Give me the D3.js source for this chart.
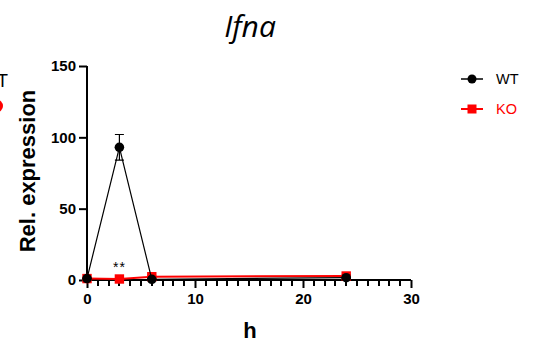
<!DOCTYPE html>
<html>
<head>
<meta charset="utf-8">
<script src="https://cdn.jsdelivr.net/npm/d3@7"></script>
<style>
  html, body { margin: 0; padding: 0; background: #fff; }
  svg { display: block; }
</style>
</head>
<body>
<svg id="chart" width="538" height="347"></svg>
<script>
// Time points (h) and relative expression for each genotype
const hours = [0, 3, 6, 24];
const wtMean = [1, 93, 0.5, 1.6];
const wtSem = [0.3, 9, 0.2, 0.4];
const koMean = [1, 0.7, 2.3, 2.8];
const koSem = [0.2, 0.2, 0.5, 0.6];
const xTicks = [0, 10, 20, 30];
const xMinorTicks = d3.range(0, 31, 1).filter(v => v % 10 !== 0);
const yTicks = [0, 50, 100, 150];
const seriesNames = ["WT", "KO"];
const seriesColors = ["#000000", "#ff0000"];
const sigLabel = { hour: 3, text: "**" };

const svg = d3.select("#chart");
const font = "'Liberation Sans', Arial, sans-serif";

const x = d3.scaleLinear().domain([0, 30]).range([87, 411]);
const y = d3.scaleLinear().domain([0, 150]).range([280, 66]);

// Title
svg.append("text")
  .attr("x", 250).attr("y", 37)
  .attr("text-anchor", "middle")
  .attr("font-family", "'Open Sans', sans-serif")
  .attr("font-style", "italic")
  .attr("font-size", 30)
  .text("Ifna");

// Axes
const xMajor = d3.axisBottom(x).tickValues(xTicks).tickSize(8).tickPadding(5).tickFormat(d3.format("d"));
const yAxis = d3.axisLeft(y).tickValues(yTicks).tickSize(8).tickPadding(3).tickFormat(d3.format("d"));

function styleAxis(g) {
  g.select(".domain").attr("stroke", "#000").attr("stroke-width", 2);
  g.selectAll(".tick line").attr("stroke", "#000").attr("stroke-width", 2);
  g.selectAll(".tick text")
    .attr("font-family", font).attr("font-weight", "bold")
    .attr("font-size", 15).attr("fill", "#000");
}

const gx = svg.append("g").attr("transform", `translate(0,${y(0)})`).call(xMajor).call(styleAxis);
gx.select(".domain").attr("d", `M${x(0)},0H${x(30)}`);

// minor ticks on the x axis, one per hour
svg.append("g")
  .attr("transform", `translate(0,${y(0)})`)
  .selectAll("path")
  .data(xMinorTicks)
  .join("path")
  .attr("d", d => `M${Math.round(x(d))},0V6`)
  .attr("fill", "none")
  .attr("stroke", "#000")
  .attr("stroke-width", 2);

const gy = svg.append("g").attr("transform", `translate(${x(0)},0)`).call(yAxis).call(styleAxis);
gy.select(".domain").attr("d", `M0,${y(150)}V${y(0) + 1}`);

// Axis titles
svg.append("text")
  .attr("transform", `translate(35,171) rotate(-90)`)
  .attr("text-anchor", "middle")
  .attr("font-family", font).attr("font-weight", "bold")
  .attr("font-size", 22)
  .text("Rel. expression");

svg.append("text")
  .attr("x", 250).attr("y", 338)
  .attr("text-anchor", "middle")
  .attr("font-family", font).attr("font-weight", "bold")
  .attr("font-size", 22)
  .text("h");

// Series: KO drawn first so WT markers sit on top
const series = [
  { name: seriesNames[1], color: seriesColors[1], mean: koMean, sem: koSem, shape: "square", width: 2 },
  { name: seriesNames[0], color: seriesColors[0], mean: wtMean, sem: wtSem, shape: "circle", width: 1.2 }
];

const line = d3.line().x(d => x(d.h)).y(d => y(d.v));

series.forEach(s => {
  const pts = hours.map((h, i) => ({ h, v: s.mean[i], e: s.sem[i] }));
  const g = svg.append("g");
  // error bars
  pts.forEach(p => {
    const px = x(p.h);
    g.append("path")
      .attr("d", `M${px},${y(p.v + p.e)}V${y(p.v - p.e)}M${px - 4.5},${y(p.v + p.e)}H${px + 4.5}M${px - 4.5},${y(p.v - p.e)}H${px + 4.5}`)
      .attr("stroke", s.color).attr("stroke-width", 1.2).attr("fill", "none");
  });
  g.append("path").datum(pts).attr("d", line)
    .attr("fill", "none").attr("stroke", s.color).attr("stroke-width", s.width);
  pts.forEach(p => {
    if (s.shape === "circle") {
      g.append("circle").attr("cx", x(p.h)).attr("cy", y(p.v)).attr("r", 4.8).attr("fill", s.color);
    } else {
      g.append("rect").attr("x", x(p.h) - 4.7).attr("y", y(p.v) - 4.7)
        .attr("width", 9.4).attr("height", 9.4).attr("fill", s.color);
    }
  });
});

// Significance mark
svg.append("text")
  .attr("x", x(sigLabel.hour)).attr("y", 272)
  .attr("text-anchor", "middle")
  .attr("font-family", font).attr("font-size", 14)
  .attr("letter-spacing", 1)
  .text(sigLabel.text);

// Legend
const legend = [
  { name: seriesNames[0], color: seriesColors[0], shape: "circle", y: 79 },
  { name: seriesNames[1], color: seriesColors[1], shape: "square", y: 109 }
];
legend.forEach(l => {
  const g = svg.append("g");
  g.append("line").attr("x1", 461).attr("x2", 483).attr("y1", l.y).attr("y2", l.y)
    .attr("stroke", l.color).attr("stroke-width", l.shape === "square" ? 2 : 1.5);
  if (l.shape === "circle") {
    g.append("circle").attr("cx", 472).attr("cy", l.y).attr("r", 4.5).attr("fill", l.color);
  } else {
    g.append("rect").attr("x", 467.5).attr("y", l.y - 4.5).attr("width", 9).attr("height", 9).attr("fill", l.color);
  }
  g.append("text").attr("x", 496).attr("y", l.y + 5)
    .attr("font-family", font).attr("font-size", 14.5).attr("fill", l.color)
    .text(l.name);
});

// Neighbouring panel's legend, cut by the left edge
svg.append("text").attr("x", 8).attr("y", 87).attr("text-anchor", "end")
  .attr("font-family", font).attr("font-size", 18).attr("fill", "#000").text(seriesNames[0]);
svg.append("circle").attr("cx", -3.5).attr("cy", 106).attr("r", 6.5).attr("fill", seriesColors[1]);
</script>
</body>
</html>
